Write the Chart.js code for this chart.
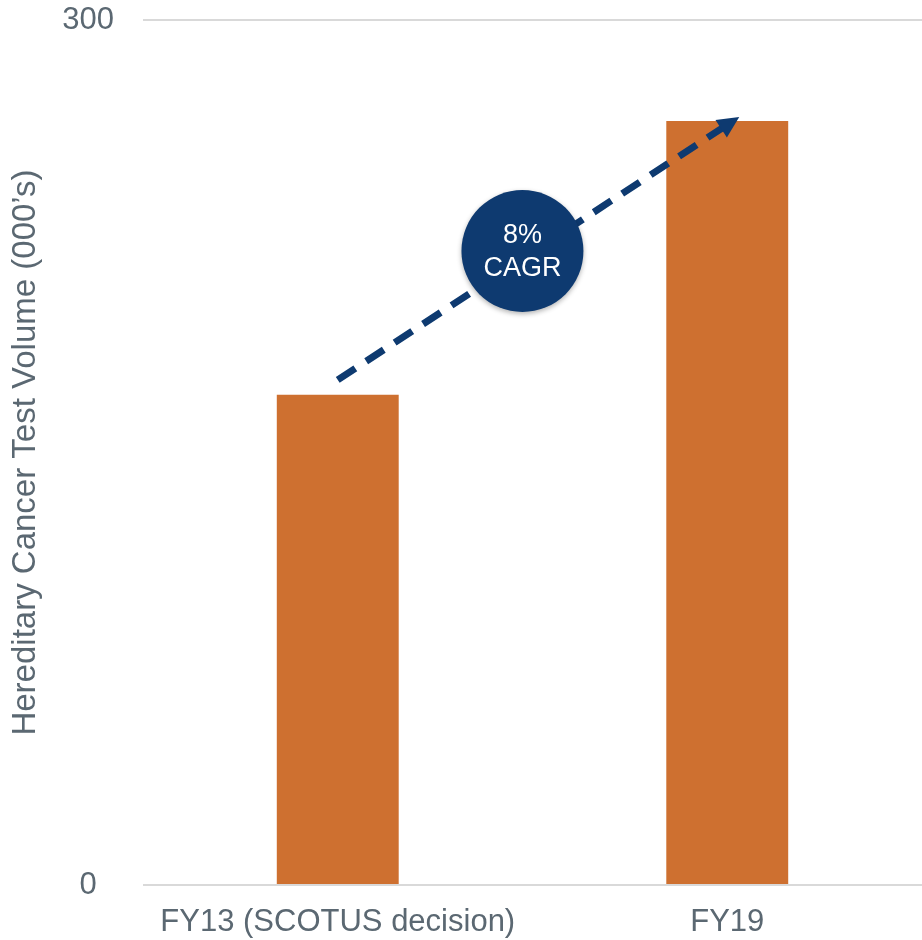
<!DOCTYPE html>
<html lang="en">
  <head>
    <meta charset="UTF-8">
    <title>Hereditary Cancer Test Volume</title>
    <script src="https://cdn.jsdelivr.net/npm/chart.js"></script>
    <style>
      body {
        margin: 0;
        padding: 0;
        background-color: #ffffff;
      }
    </style>
  </head>
  <body>
  <canvas id="volumeChart" width="922" height="940"></canvas>

  <script>
  var categories = ['FY13 (SCOTUS decision)', 'FY19'];
  var volumes = [170, 265];
  var yTicks = [0, 300];
  var cagrLabel = ['8%', 'CAGR'];

  var textColor = '#5b6872';
  var barColor = '#ce7030';
  var navy = '#0e3a70';

  // dashed growth arrow + CAGR bubble on top of the bars
  var cagrPlugin = {
    id: 'cagr',
    afterDatasetsDraw: function(chart) {
      var ctx = chart.ctx;
      var xs = chart.scales.x;
      var ys = chart.scales.y;
      var x0 = xs.getPixelForValue(0);
      var y0 = ys.getPixelForValue(volumes[0]) - 15;
      var x1 = xs.getPixelForValue(1) + 12;
      var y1 = ys.getPixelForValue(volumes[1]) - 4;
      var ang = Math.atan2(y1 - y0, x1 - x0);
      var headLen = 24;
      var lx = x1 - Math.cos(ang) * (headLen - 4);
      var ly = y1 - Math.sin(ang) * (headLen - 4);

      ctx.save();
      ctx.strokeStyle = navy;
      ctx.fillStyle = navy;
      ctx.lineWidth = 7;
      ctx.setLineDash([21, 13]);
      ctx.beginPath();
      ctx.moveTo(x0, y0);
      ctx.lineTo(lx, ly);
      ctx.stroke();
      ctx.setLineDash([]);

      ctx.beginPath();
      ctx.moveTo(x1, y1);
      ctx.lineTo(x1 - headLen * Math.cos(ang - 0.45), y1 - headLen * Math.sin(ang - 0.45));
      ctx.lineTo(x1 - headLen * Math.cos(ang + 0.45), y1 - headLen * Math.sin(ang + 0.45));
      ctx.closePath();
      ctx.fill();

      var cx = x0 + (x1 - x0) * 0.46;
      var cy = y0 + (y1 - y0) * 0.49;
      ctx.shadowColor = 'rgba(0, 0, 0, 0.3)';
      ctx.shadowBlur = 5;
      ctx.shadowOffsetY = 2;
      ctx.beginPath();
      ctx.arc(cx, cy, 61, 0, Math.PI * 2);
      ctx.fill();
      ctx.shadowColor = 'transparent';

      ctx.fillStyle = '#ffffff';
      ctx.font = '27px "Liberation Sans", Arial, sans-serif';
      ctx.textAlign = 'center';
      ctx.textBaseline = 'middle';
      ctx.fillText(cagrLabel[0], cx, cy - 15);
      ctx.fillText(cagrLabel[1], cx, cy + 18);
      ctx.restore();
    }
  };

  var ctx = document.getElementById('volumeChart').getContext('2d');
  var volumeChart = new Chart(ctx, {
    type: 'bar',
    data: {
      labels: categories,
      datasets: [{
        label: 'Test Volume',
        data: volumes,
        backgroundColor: barColor,
        borderWidth: 0,
        categoryPercentage: 1,
        barPercentage: 0.313
      }]
    },
    options: {
      responsive: false,
      animation: false,
      layout: {
        padding: { top: 20, right: -6, bottom: 0, left: 0 }
      },
      plugins: {
        legend: { display: false },
        tooltip: { enabled: false }
      },
      scales: {
        x: {
          afterFit: function(scale) {
            scale.height = 55;
            scale.paddingLeft = 0;
            scale.paddingRight = 0;
          },
          grid: { display: false, drawTicks: false },
          border: { display: false },
          ticks: {
            color: textColor,
            padding: 19,
            maxRotation: 0,
            font: { family: '"Liberation Sans", Arial, sans-serif', size: 31 }
          }
        },
        y: {
          min: 0,
          max: 300,
          afterBuildTicks: function(scale) {
            scale.ticks = yTicks.map(function(v) { return { value: v }; });
          },
          afterFit: function(scale) {
            scale.width = 143;
            scale.paddingTop = 0;
            scale.paddingBottom = 0;
          },
          grid: { color: '#d9d9d9', lineWidth: 2, drawTicks: false },
          border: { display: false },
          ticks: {
            color: textColor,
            crossAlign: 'center',
            padding: 29,
            font: { family: '"Liberation Sans", Arial, sans-serif', size: 31 }
          },
          title: {
            display: true,
            text: 'Hereditary Cancer Test Volume (000\u2019s)',
            color: textColor,
            padding: { top: 6, bottom: 0 },
            font: { family: '"Liberation Sans", Arial, sans-serif', size: 33 }
          }
        }
      }
    },
    plugins: [cagrPlugin]
  });
  </script>
  </body>
</html>
